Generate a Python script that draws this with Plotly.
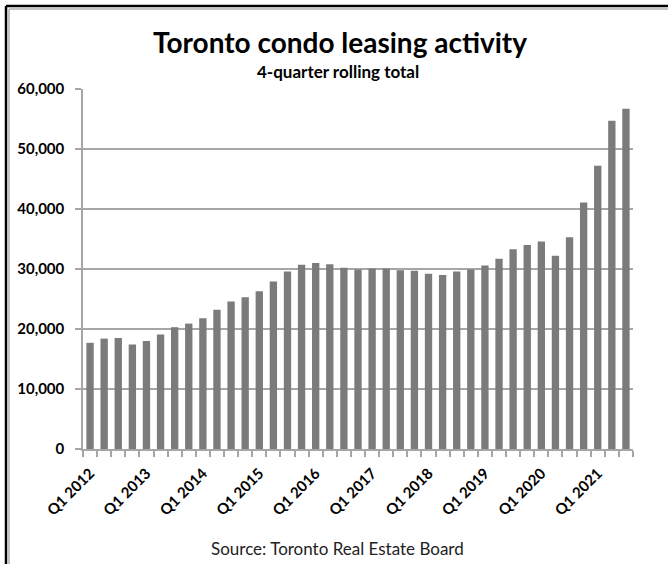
import plotly.graph_objects as go

# ---- data ----
quarters = []
for yr in range(2012, 2022):
    for q in range(1, 5):
        quarters.append(f"Q{q} {yr}")
quarters = quarters[:39]  # Q1 2012 .. Q3 2021

leasing_totals = [
    17700, 18400, 18500, 17400, 18000, 19100, 20300, 20900, 21800, 23200,
    24600, 25300, 26300, 27900, 29600, 30700, 31000, 30800, 30200, 29900,
    30100, 30100, 29800, 29700, 29200, 29000, 29600, 29900, 30600, 31700,
    33300, 34000, 34600, 32200, 35300, 41100, 47200, 54700, 56700,
]

y_tick_vals = [0, 10000, 20000, 30000, 40000, 50000, 60000]
y_tick_text = ["0", "10,000", "20,000", "30,000", "40,000", "50,000", "60,000"]

title_text = "Toronto condo leasing activity"
subtitle_text = "4-quarter rolling total"
source_text = "Source: Toronto Real Estate Board"

# ---- layout geometry ----
W, H = 668, 564
ML, MR, MT, MB = 83, 35, 89, 115
PW, PH = W - ML - MR, H - MT - MB


def px_x(px):
    return (px - ML) / PW


def px_y(py):
    return (H - MB - py) / PH


x_idx = list(range(len(quarters)))
label_idx = [i for i in x_idx if quarters[i].startswith("Q1")]
label_txt = [quarters[i] for i in label_idx]

FONT = "Lato"
GRID = "#a6a6a6"

fig = go.Figure()
fig.add_trace(go.Bar(
    x=x_idx, y=leasing_totals,
    marker=dict(color="#7b7b7b", line=dict(width=0)),
    hoverinfo="y",
))

fig.update_layout(
    width=W, height=H,
    margin=dict(l=ML, r=MR, t=MT, b=MB, autoexpand=False),
    paper_bgcolor="white", plot_bgcolor="white",
    bargap=0.48, showlegend=False,
    font=dict(family=FONT, color="black"),
)

fig.update_xaxes(
    automargin=False,
    range=[-0.5, len(quarters) - 0.5],
    tickmode="array", tickvals=label_idx, ticktext=label_txt,
    tickangle=-45, ticks="", showgrid=False,
    tickfont=dict(family=FONT, size=15, color="black", weight="bold"),
    ticklabelstandoff=8,
    showline=True, linecolor=GRID, linewidth=1.5,
    minor=dict(tickmode="linear", tick0=-0.5, dtick=1, ticks="outside",
               ticklen=6, tickcolor=GRID, tickwidth=1.5, showgrid=False),
    zeroline=False,
)

fig.update_yaxes(
    automargin=False,
    range=[0, 60000],
    tickmode="array", tickvals=y_tick_vals, ticktext=y_tick_text,
    tickfont=dict(family=FONT, size=15, color="black", weight="bold"),
    ticks="outside", ticklen=6, tickcolor=GRID, tickwidth=1.5,
    ticklabelstandoff=8,
    showgrid=True, gridcolor=GRID, gridwidth=1.5,
    showline=True, linecolor=GRID, linewidth=1.5,
    zeroline=False,
)

fig.add_annotation(
    text=title_text, xref="paper", yref="paper",
    x=px_x(340), y=px_y(42), showarrow=False,
    font=dict(family=FONT, size=28, color="black", weight="bold"),
    xanchor="center", yanchor="middle",
)
fig.add_annotation(
    text=subtitle_text, xref="paper", yref="paper",
    x=px_x(338), y=px_y(72), showarrow=False,
    font=dict(family=FONT, size=17, color="black", weight="bold"),
    xanchor="center", yanchor="middle",
)
fig.add_annotation(
    text=source_text, xref="paper", yref="paper",
    x=px_x(337), y=px_y(548), showarrow=False,
    font=dict(family=FONT, size=17, color="#222222"),
    xanchor="center", yanchor="middle",
)

# outer frame (top & left dark border with a grey inner shadow)
fig.add_shape(type="line", xref="paper", yref="paper",
              x0=px_x(6), x1=px_x(W + 5), y0=px_y(6), y1=px_y(6),
              line=dict(color="black", width=2.5))
fig.add_shape(type="line", xref="paper", yref="paper",
              x0=px_x(6), x1=px_x(6), y0=px_y(6), y1=px_y(H + 5),
              line=dict(color="black", width=2.5))
fig.add_shape(type="line", xref="paper", yref="paper",
              x0=px_x(9), x1=px_x(W + 5), y0=px_y(9), y1=px_y(9),
              line=dict(color="#b0b0b0", width=1.5))
fig.add_shape(type="line", xref="paper", yref="paper",
              x0=px_x(9), x1=px_x(9), y0=px_y(9), y1=px_y(H + 5),
              line=dict(color="#b0b0b0", width=1.5))

fig.write_html(
    "out.html",
    config={"displayModeBar": False},
    post_script="document.body.style.margin='0';document.body.style.overflow='hidden';",
)
